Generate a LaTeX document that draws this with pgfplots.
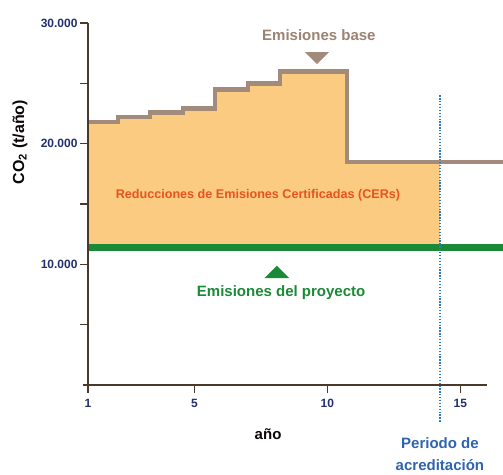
\documentclass[border=0pt]{standalone}
\usepackage{pgfplots}
\pgfplotsset{compat=1.18}
\usepackage{fontspec}
\setmainfont{Liberation Sans}
\newfontfamily\cf{Liberation Sans}
\usetikzlibrary{shapes.geometric}
\definecolor{fillorange}{HTML}{FBCB82}
\definecolor{basecol}{HTML}{A38B7B}
\definecolor{basetxt}{HTML}{9C8272}
\definecolor{projgreen}{HTML}{1B8A36}
\definecolor{redtxt}{HTML}{E8531F}
\definecolor{dotblue}{HTML}{2A7BC4}
\definecolor{bluetxt}{HTML}{2E64AE}
\definecolor{axbr}{RGB}{74,56,44}
\definecolor{navy}{HTML}{23306E}
\begin{document}
\begin{tikzpicture}
\begin{axis}[
  at={(0,0)}, anchor=south west,
  scale only axis, width=399bp, height=362bp,
  xmin=1, xmax=16, ymin=0, ymax=30000,
  clip=false,
  axis x line=bottom, axis y line=left,
  axis line style={-, line width=1.8pt, draw=axbr},
  tick align=outside,
  major tick length=8pt,
  tick style={draw=axbr, line width=1.6pt},
  scaled y ticks=false,
  xtick={1,5,10,15}, xticklabels={1,5,10,15},
  ytick={5000,10000,15000,20000,25000,30000},
  yticklabels={,10.000,,20.000,,30.000},
  tick label style={font=\cf\bfseries\fontsize{12bp}{12bp}\selectfont, text=navy},
  xticklabel style={yshift=-3bp},
  yticklabel style={xshift=1bp},
]
% certified emission reductions area
\addplot[fill=fillorange, draw=none] coordinates {
  (1.04,11400) (1.04,21800) (2.13,21800) (2.13,22200) (3.33,22200) (3.33,22600)
  (4.57,22600) (4.57,22900) (5.77,22900) (5.77,24500) (7.02,24500) (7.02,25000)
  (8.22,25000) (8.22,26000) (10.74,26000) (10.74,18500) (14.23,18500) (14.23,11400)
} -- cycle;
% baseline emissions
\addplot[color=basecol, line width=4.5bp, line join=miter] coordinates {
  (1.04,21800) (2.13,21800) (2.13,22200) (3.33,22200) (3.33,22600)
  (4.57,22600) (4.57,22900) (5.77,22900) (5.77,24500) (7.02,24500) (7.02,25000)
  (8.22,25000) (8.22,26000) (10.74,26000) (10.74,18500) (16.6,18500)
};
% project emissions
\addplot[color=projgreen, line width=6.5bp] coordinates {(1.04,11400) (16.6,11400)};
% crediting period
\addplot[color=dotblue, line width=1.8bp, dash pattern=on 1.3bp off 1.6bp] coordinates {(14.23,24000) (14.23,-3150)};
\draw[draw=axbr, line width=1.8pt] (axis cs:0.8,0) -- (axis cs:16,0);
\draw[draw=axbr, line width=1.8pt] (axis cs:1,0) -- (axis cs:1,30000);
% annotations
\node[font=\cf\bfseries\fontsize{15bp}{15bp}\selectfont, text=basetxt] at (axis cs:9.68,29000) {Emisiones base};
\node[isosceles triangle, shape border rotate=-90, isosceles triangle apex angle=90, fill=basecol, inner sep=0pt, minimum width=23bp, minimum height=12bp] at (axis cs:9.61,27180) {};
\node[font=\cf\bfseries\fontsize{12.6bp}{12.6bp}\selectfont, text=redtxt] at (axis cs:7.39,15745) {Reducciones de Emisiones Certificadas (CERs)};
\node[isosceles triangle, shape border rotate=90, isosceles triangle apex angle=90, fill=projgreen, inner sep=0pt, minimum width=25bp, minimum height=12bp] at (axis cs:8.1,9280) {};
\node[font=\cf\bfseries\fontsize{15bp}{15bp}\selectfont, text=projgreen] at (axis cs:8.26,7620) {Emisiones del proyecto};
\node[font=\cf\bfseries\fontsize{15bp}{15bp}\selectfont, text=black!85!axbr] at (axis cs:7.77,-4060) {año};
\node[font=\cf\bfseries\fontsize{15bp}{22bp}\selectfont, text=bluetxt, align=center] at (axis cs:14.23,-5750) {Periodo de\\acreditación};
\node[rotate=90, font=\cf\bfseries\fontsize{16bp}{16bp}\selectfont, text=black!85!axbr] at (axis cs:-1.56,20140) {CO\textsubscript{2} (t/año)};
\end{axis}
\pgfresetboundingbox
\path[use as bounding box] (-88bp,-90bp) rectangle (415bp,385bp);
\end{tikzpicture}
\end{document}
